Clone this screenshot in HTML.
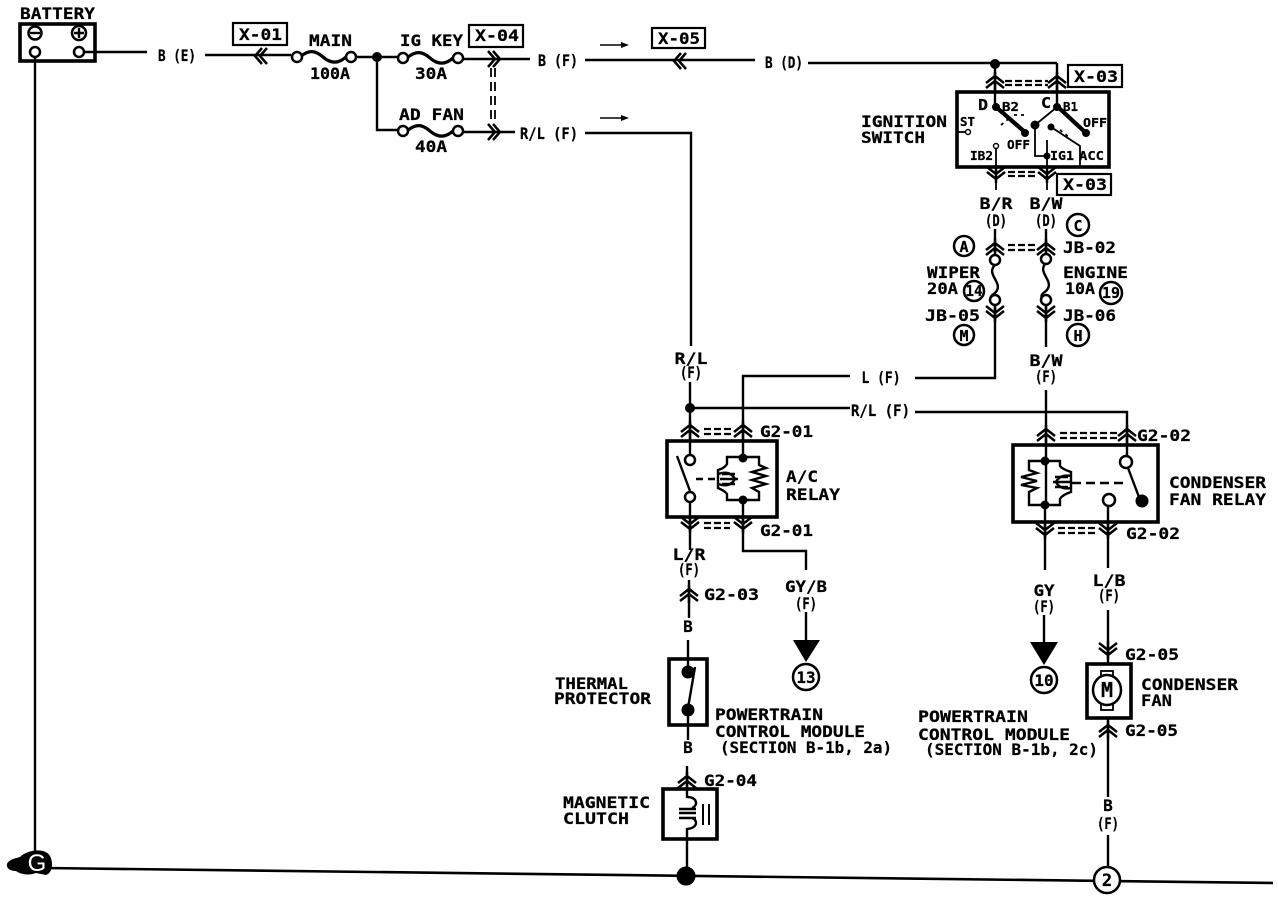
<!DOCTYPE html>
<html><head><meta charset="utf-8"><title>Wiring diagram</title>
<style>
html,body{margin:0;padding:0;background:#fff}
svg{display:block}
text{font-family:"DejaVu Sans Mono","Liberation Mono",monospace;font-weight:bold;font-size:16px;fill:#000;stroke:#000;stroke-width:.25px}
.m{text-anchor:middle}
.s{font-size:12px}
.n{font-size:15px}
.w{fill:none;stroke:#000;stroke-width:2.4}
.t{fill:none;stroke:#000;stroke-width:1.8}
.b{fill:none;stroke:#000;stroke-width:3.6}
.k{fill:#000;stroke:#000}
.c{fill:#fff;stroke:#000;stroke-width:2.5}
.d{fill:none;stroke:#000;stroke-width:2.2;stroke-dasharray:7 3}
</style></head><body>
<svg width="1278" height="912" viewBox="0 0 1278 912" xmlns="http://www.w3.org/2000/svg">
<defs>
<g id="up"><path d="M-9,4L0,-3L9,4M-9,9L0,2L9,9M0,-7V11" fill="none" stroke="#000" stroke-width="2.5"/></g>
<g id="dn"><path d="M-9,-4L0,3L9,-4M-9,-9L0,-2L9,-9M0,7V-11" fill="none" stroke="#000" stroke-width="2.5"/></g>
<g id="lf"><path d="M4,-8L-3,0L4,8M9,-8L2,0L9,8" fill="none" stroke="#000" stroke-width="2.5"/></g>
<g id="rt"><path d="M-4,-8L3,0L-4,8M-9,-8L-2,0L-9,8" fill="none" stroke="#000" stroke-width="2.5"/></g>
<path id="fuse" d="M0,0C8,-6 14,-6 22,1C30,8 38,8 46,0" fill="none" stroke="#000" stroke-width="3.2"/>
<path id="vf" d="M0,0C-10,10 10,18 0,28C-8,33 -4,36 0,39" fill="none" stroke="#000" stroke-width="2.4"/>
</defs>
<rect width="1278" height="912" fill="#fff"/>

<!-- ground bus -->
<path d="M45,868L1273,883" stroke="#000" stroke-width="2.6" fill="none"/>
<path d="M7,864C9,859 17,858 20,857C27,850 45,847 50,856C54,864 52,873 46,875L36,873C28,876 20,874 16,871C10,871 6,868 7,864Z" fill="#000"/>
<text x="37" y="871" class="m" style="fill:#fff;stroke:none;font-weight:normal;font-size:24px;font-family:'Liberation Sans',sans-serif">G</text>
<path class="w" d="M35,57V852"/>

<!-- battery -->
<text x="20" y="19" textLength="75" lengthAdjust="spacingAndGlyphs">BATTERY</text>
<rect x="20" y="24" width="75" height="37" class="b"/>
<circle cx="35" cy="33" r="6.5" class="c"/><path class="w" d="M30,33H40"/>
<circle cx="79" cy="33" r="7" class="c"/><path class="w" d="M74,33H84M79,28V38"/>
<circle cx="35" cy="52" r="5" class="c"/><circle cx="79" cy="52" r="5" class="c"/>
<path class="w" d="M84,52H147"/>
<text x="158" y="61" textLength="38" lengthAdjust="spacingAndGlyphs">B (E)</text>
<path class="w" d="M205,55H291"/>
<use href="#lf" x="258" y="56"/>
<rect x="233" y="23" width="54" height="22" fill="#fff" stroke="#000" stroke-width="2.2"/>
<text x="239" y="40" textLength="43" lengthAdjust="spacingAndGlyphs">X-01</text>

<text x="309" y="46" textLength="43" lengthAdjust="spacingAndGlyphs">MAIN</text>
<text x="310" y="79" textLength="40" lengthAdjust="spacingAndGlyphs">100A</text>
<use href="#fuse" x="301" y="56"/>
<circle cx="297" cy="57" r="5" class="c"/><circle cx="351" cy="57" r="5" class="c"/>
<path class="w" d="M356,57H398M463,59H530"/>
<circle cx="377" cy="57" r="4.5" class="k"/>
<text x="400" y="46" textLength="63" lengthAdjust="spacingAndGlyphs">IG KEY</text>
<text x="415" y="79" textLength="32" lengthAdjust="spacingAndGlyphs">30A</text>
<use href="#fuse" x="408" y="57"/>
<circle cx="403" cy="58" r="5" class="c"/><circle cx="458" cy="58" r="5" class="c"/>
<rect x="469" y="25" width="54" height="22" fill="#fff" stroke="#000" stroke-width="2.2"/>
<text x="475" y="41" textLength="44" lengthAdjust="spacingAndGlyphs">X-04</text>
<use href="#rt" x="497" y="59"/>
<path d="M491,68V124M495,68V124" stroke="#000" stroke-width="1.8" stroke-dasharray="9 5" fill="none"/>
<text x="538" y="66" textLength="40" lengthAdjust="spacingAndGlyphs">B (F)</text>
<path class="w" d="M585,60H755"/>
<use href="#lf" x="677" y="61"/>
<path d="M600,45H622" stroke="#000" stroke-width="1.6"/><path d="M621,42L629,45L621,48Z" fill="#000"/>
<rect x="652" y="28" width="53" height="20" fill="#fff" stroke="#000" stroke-width="2.2"/>
<text x="658" y="44" textLength="42" lengthAdjust="spacingAndGlyphs">X-05</text>
<text x="765" y="68" textLength="38" lengthAdjust="spacingAndGlyphs">B (D)</text>
<path class="w" d="M808,63H1057"/>
<circle cx="995" cy="64" r="4.5" class="k"/>

<path class="w" d="M377,57V130H398M463,132H515"/>
<text x="399" y="120" textLength="65" lengthAdjust="spacingAndGlyphs">AD FAN</text>
<text x="415" y="152" textLength="32" lengthAdjust="spacingAndGlyphs">40A</text>
<use href="#fuse" x="408" y="130"/>
<circle cx="403" cy="131" r="5" class="c"/><circle cx="458" cy="131" r="5" class="c"/>
<use href="#rt" x="497" y="132"/>
<text x="520" y="139" textLength="58" lengthAdjust="spacingAndGlyphs">R/L (F)</text>
<path d="M600,118H622" stroke="#000" stroke-width="1.6"/><path d="M621,115L629,118L621,121Z" fill="#000"/>
<path class="w" d="M585,133H691V346"/>

<!-- ignition switch -->
<text x="861" y="127" textLength="86" lengthAdjust="spacingAndGlyphs">IGNITION</text>
<text x="861" y="143" textLength="64" lengthAdjust="spacingAndGlyphs">SWITCH</text>
<rect x="957" y="92" width="152" height="75" class="b"/>
<path class="w" d="M995,63V107M1057,63V107"/>
<use href="#up" x="995" y="79"/><use href="#up" x="1057" y="79"/>
<path class="d" d="M1005,81H1048"/>
<path class="d" d="M1005,85H1048"/>
<rect x="1068" y="65" width="54" height="22" fill="#fff" stroke="#000" stroke-width="2.2"/>
<text x="1074" y="82" textLength="44" lengthAdjust="spacingAndGlyphs">X-03</text>
<text x="978" y="110" class="n" textLength="10" lengthAdjust="spacingAndGlyphs">D</text>
<text x="1041" y="108" class="n" textLength="10" lengthAdjust="spacingAndGlyphs">C</text>
<text x="1002" y="111" class="s" textLength="17" lengthAdjust="spacingAndGlyphs">B2</text>
<text x="1063" y="111" class="s" textLength="15" lengthAdjust="spacingAndGlyphs">B1</text>
<text x="960" y="126" class="s" textLength="15" lengthAdjust="spacingAndGlyphs">ST</text>
<circle cx="968" cy="132" r="2.5" class="c" style="stroke-width:1.4"/>
<path class="t" d="M957,132H965"/>
<text x="1007" y="149" class="s" textLength="23" lengthAdjust="spacingAndGlyphs">OFF</text>
<text x="1083" y="127" class="s" textLength="24" lengthAdjust="spacingAndGlyphs">OFF</text>
<text x="970" y="160" class="s" textLength="23" lengthAdjust="spacingAndGlyphs">IB2</text>
<text x="1050" y="160" class="s" textLength="24" lengthAdjust="spacingAndGlyphs">IG1</text>
<text x="1079" y="160" class="s" textLength="25" lengthAdjust="spacingAndGlyphs">ACC</text>
<circle cx="996" cy="107" r="3.5" class="k"/><circle cx="1057" cy="107" r="3.5" class="k"/>
<path d="M996,107L1026,133M1059,108L1086,133" stroke="#000" stroke-width="4.2" fill="none"/>
<circle cx="1025" cy="133" r="3.5" class="k"/><circle cx="1086" cy="133" r="3.5" class="k"/>
<path class="t" d="M1057,107L1035,125V156H1046M1051,127L1080,146V166M1047,140V190M996,145V190"/>
<path class="t" stroke-dasharray="3 4" d="M1001,125L1012,116M1014,115H1024M1060,130L1070,138"/>
<circle cx="1035" cy="125" r="4" class="k"/><circle cx="1051" cy="127" r="3" class="k"/><circle cx="1047" cy="156" r="3" class="k"/>
<circle cx="996" cy="146" r="2.5" class="c" style="stroke-width:1.4"/>
<use href="#dn" x="996" y="176"/><use href="#dn" x="1047" y="176"/>
<path class="d" d="M1008,172H1038M1008,176H1038"/>
<rect x="1057" y="174" width="54" height="21" fill="#fff" stroke="#000" stroke-width="2.2"/>
<text x="1063" y="190" textLength="44" lengthAdjust="spacingAndGlyphs">X-03</text>
<text x="996" y="209" class="m" textLength="33" lengthAdjust="spacingAndGlyphs">B/R</text>
<text x="996" y="226" class="m" textLength="22" lengthAdjust="spacingAndGlyphs">(D)</text>
<text x="1046" y="209" class="m" textLength="33" lengthAdjust="spacingAndGlyphs">B/W</text>
<text x="1046" y="226" class="m" textLength="22" lengthAdjust="spacingAndGlyphs">(D)</text>

<!-- fuses JB -->
<path class="w" d="M995,229V255M1046,229V253"/>
<use href="#up" x="995" y="246"/><use href="#up" x="1046" y="246"/>
<path class="d" d="M1008,245H1036M1008,250H1036"/>
<circle cx="964" cy="246" r="10" class="c"/><text x="964" y="252" class="m n">A</text>
<circle cx="1078" cy="225" r="11" class="c"/><text x="1078" y="231" class="m n">C</text>
<text x="1063" y="253" textLength="53" lengthAdjust="spacingAndGlyphs">JB-02</text>
<use href="#vf" x="995" y="265"/><use href="#vf" x="1046" y="263"/>
<circle cx="995" cy="260" r="5" class="c"/><circle cx="995" cy="300" r="5" class="c"/>
<circle cx="1046" cy="259" r="5" class="c"/><circle cx="1046" cy="300" r="5" class="c"/>
<text x="927" y="278" textLength="53" lengthAdjust="spacingAndGlyphs">WIPER</text>
<text x="927" y="294" textLength="31" lengthAdjust="spacingAndGlyphs">20A</text>
<circle cx="974" cy="291" r="10" class="c"/><text x="974" y="296" class="m n" textLength="17" lengthAdjust="spacingAndGlyphs">14</text>
<text x="1063" y="278" textLength="65" lengthAdjust="spacingAndGlyphs">ENGINE</text>
<text x="1065" y="294" textLength="30" lengthAdjust="spacingAndGlyphs">10A</text>
<circle cx="1111" cy="293" r="11" class="c"/><text x="1111" y="298" class="m n" textLength="18" lengthAdjust="spacingAndGlyphs">19</text>
<use href="#dn" x="995" y="315"/><use href="#dn" x="1046" y="315"/>
<text x="925" y="321" textLength="55" lengthAdjust="spacingAndGlyphs">JB-05</text>
<text x="1063" y="321" textLength="53" lengthAdjust="spacingAndGlyphs">JB-06</text>
<circle cx="964" cy="335" r="10" class="c"/><text x="964" y="341" class="m n">M</text>
<circle cx="1078" cy="335" r="11" class="c"/><text x="1078" y="341" class="m n">H</text>
<path class="w" d="M995,305V378H915M1046,305V347M1046,390V507"/>
<text x="881" y="383" class="m" textLength="39" lengthAdjust="spacingAndGlyphs">L (F)</text>
<path class="w" d="M850,376H743V458"/>
<text x="1046" y="366" class="m" textLength="33" lengthAdjust="spacingAndGlyphs">B/W</text>
<text x="1046" y="382" class="m" textLength="22" lengthAdjust="spacingAndGlyphs">(F)</text>
<text x="691" y="364" class="m" textLength="33" lengthAdjust="spacingAndGlyphs">R/L</text>
<text x="691" y="378" class="m" textLength="22" lengthAdjust="spacingAndGlyphs">(F)</text>

<!-- A/C relay -->
<path class="w" d="M690,382V455M690,408H850"/>
<circle cx="690" cy="408" r="4.5" class="k"/>
<text x="851" y="416" textLength="59" lengthAdjust="spacingAndGlyphs">R/L (F)</text>
<path class="w" d="M915,412H1127V457"/>
<use href="#up" x="690" y="428"/><use href="#up" x="743" y="428"/>
<path class="d" d="M704,429H733M704,434H733"/>
<text x="760" y="437" textLength="53" lengthAdjust="spacingAndGlyphs">G2-01</text>
<rect x="667" y="441" width="110" height="76" class="b"/>
<circle cx="690" cy="460" r="5" class="c"/><circle cx="690" cy="497" r="5" class="c"/>
<path class="w" d="M677,456L690,491M690,502V550"/>
<path d="M696,479H716" stroke="#000" stroke-width="2.4" stroke-dasharray="7 5"/>
<circle cx="743" cy="458" r="4" class="k"/><circle cx="743" cy="500" r="4" class="k"/>
<path class="w" d="M743,457H727V464Q725,468 718,470V488Q725,491 727,494V500H759V492L752,488L766,484L752,480L766,476L752,472L766,468L759,465V457H743"/>
<path class="w" d="M718,474Q730,470 735,479Q730,488 718,484"/>
<path d="M722,474H735M720,479H738M722,484H735" stroke="#000" stroke-width="2.6"/>
<text x="786" y="482" textLength="32" lengthAdjust="spacingAndGlyphs">A/C</text>
<text x="786" y="500" textLength="54" lengthAdjust="spacingAndGlyphs">RELAY</text>
<use href="#dn" x="690" y="526"/><use href="#dn" x="743" y="526"/>
<path class="d" d="M704,523H730M704,528H730"/>
<text x="760" y="536" textLength="53" lengthAdjust="spacingAndGlyphs">G2-01</text>
<path class="w" d="M743,500V551H806V570"/>
<text x="689" y="560" class="m" textLength="33" lengthAdjust="spacingAndGlyphs">L/R</text>
<text x="689" y="575" class="m" textLength="22" lengthAdjust="spacingAndGlyphs">(F)</text>
<text x="806" y="592" class="m" textLength="42" lengthAdjust="spacingAndGlyphs">GY/B</text>
<text x="806" y="609" class="m" textLength="22" lengthAdjust="spacingAndGlyphs">(F)</text>
<path class="w" d="M806,612V642"/>
<path d="M793,640H820L806,662Z" fill="#000"/>
<circle cx="806" cy="677" r="13" class="c"/><text x="806" y="683" class="m" style="font-size:16px">13</text>
<path class="w" d="M689,580V618"/>
<use href="#up" x="689" y="592"/>
<text x="704" y="600" textLength="55" lengthAdjust="spacingAndGlyphs">G2-03</text>
<text x="688" y="632" class="m">B</text>

<!-- thermal protector -->
<path class="w" d="M688,640V672M688,710V740M687,766V798M687,828V875"/>
<rect x="669" y="659" width="38" height="66" class="b"/>
<circle cx="688" cy="672" r="6" class="k"/><circle cx="688" cy="710" r="6" class="k"/>
<path class="w" d="M695,667L688,708"/>
<text x="555" y="689" textLength="73" lengthAdjust="spacingAndGlyphs">THERMAL</text>
<text x="554" y="704" textLength="97" lengthAdjust="spacingAndGlyphs">PROTECTOR</text>
<text x="715" y="720" textLength="108" lengthAdjust="spacingAndGlyphs">POWERTRAIN</text>
<text x="715" y="737" textLength="150" lengthAdjust="spacingAndGlyphs">CONTROL MODULE</text>
<text x="720" y="753" textLength="172" lengthAdjust="spacingAndGlyphs">(SECTION B-1b, 2a)</text>
<text x="688" y="753" class="m">B</text>
<use href="#up" x="687" y="779"/>
<text x="704" y="786" textLength="53" lengthAdjust="spacingAndGlyphs">G2-04</text>

<!-- magnetic clutch -->
<rect x="663" y="789" width="54" height="50" class="b"/>
<path class="w" d="M687,797C698,797 698,806 692,808M687,829C698,828 698,820 692,818"/>
<path d="M679,809H696M679,813H696M679,818H696" stroke="#000" stroke-width="2.6"/>
<path d="M703,804V825M709,804V825" stroke="#000" stroke-width="2"/>
<text x="563" y="808" textLength="87" lengthAdjust="spacingAndGlyphs">MAGNETIC</text>
<text x="563" y="824" textLength="66" lengthAdjust="spacingAndGlyphs">CLUTCH</text>
<circle cx="686" cy="876" r="9" class="k"/>

<!-- condenser relay -->
<use href="#up" x="1046" y="432"/><use href="#up" x="1127" y="432"/>
<path class="d" d="M1060,433H1118M1060,438H1118"/>
<text x="1137" y="441" textLength="54" lengthAdjust="spacingAndGlyphs">G2-02</text>
<rect x="1013" y="445" width="145" height="77" class="b"/>
<circle cx="1045" cy="461" r="4" class="k"/><circle cx="1045" cy="505" r="4" class="k"/>
<path class="w" d="M1045,461H1029V470L1037,473L1021,477L1037,481L1021,485L1037,488L1029,492V505H1060V499Q1062,495 1071,492V472Q1062,469 1060,466V461H1045"/>
<path class="w" d="M1071,476Q1060,474 1056,482Q1060,490 1071,488"/>
<path d="M1055,477H1068M1053,482H1070M1055,487H1068" stroke="#000" stroke-width="2.6"/>
<path d="M1072,483H1125" stroke="#000" stroke-width="2.4" stroke-dasharray="9 5"/>
<circle cx="1126" cy="462" r="6" class="c"/><circle cx="1109" cy="500" r="6" class="c"/>
<path class="w" d="M1128,468L1142,505"/>
<circle cx="1142" cy="501" r="6" class="k"/>
<text x="1169" y="488" textLength="97" lengthAdjust="spacingAndGlyphs">CONDENSER</text>
<text x="1169" y="505" textLength="97" lengthAdjust="spacingAndGlyphs">FAN RELAY</text>
<use href="#dn" x="1045" y="532"/><use href="#dn" x="1108" y="532"/>
<path class="d" d="M1058,528H1098M1058,533H1098"/>
<text x="1126" y="539" textLength="54" lengthAdjust="spacingAndGlyphs">G2-02</text>
<path class="w" d="M1045,505V570M1108,506V568M1108,610V665M1108,718V797M1108,835V867"/>
<text x="1044" y="596" class="m" textLength="21" lengthAdjust="spacingAndGlyphs">GY</text>
<text x="1044" y="612" class="m" textLength="22" lengthAdjust="spacingAndGlyphs">(F)</text>
<path class="w" d="M1044,615V645"/>
<path d="M1030,642H1058L1044,665Z" fill="#000"/>
<circle cx="1044" cy="680" r="13" class="c"/><text x="1044" y="686" class="m" style="font-size:16px">10</text>
<text x="1109" y="586" class="m" textLength="33" lengthAdjust="spacingAndGlyphs">L/B</text>
<text x="1109" y="601" class="m" textLength="22" lengthAdjust="spacingAndGlyphs">(F)</text>
<use href="#dn" x="1108" y="652"/>
<text x="1125" y="660" textLength="54" lengthAdjust="spacingAndGlyphs">G2-05</text>

<!-- condenser fan -->
<rect x="1087" y="664" width="44" height="54" class="b"/>
<rect x="1101" y="671" width="12" height="6" class="c" style="stroke-width:1.8"/>
<rect x="1101" y="704" width="12" height="6" class="c" style="stroke-width:1.8"/>
<ellipse cx="1107" cy="690" rx="14" ry="15" class="c"/>
<text x="1107" y="697" class="m" style="font-size:20px">M</text>
<text x="1141" y="690" textLength="97" lengthAdjust="spacingAndGlyphs">CONDENSER</text>
<text x="1141" y="706" textLength="31" lengthAdjust="spacingAndGlyphs">FAN</text>
<use href="#up" x="1108" y="728"/>
<text x="1125" y="736" textLength="53" lengthAdjust="spacingAndGlyphs">G2-05</text>
<text x="918" y="722" textLength="110" lengthAdjust="spacingAndGlyphs">POWERTRAIN</text>
<text x="918" y="740" textLength="152" lengthAdjust="spacingAndGlyphs">CONTROL MODULE</text>
<text x="925" y="755" textLength="173" lengthAdjust="spacingAndGlyphs">(SECTION B-1b, 2c)</text>
<text x="1108" y="811" class="m">B</text>
<text x="1108" y="829" class="m" textLength="22" lengthAdjust="spacingAndGlyphs">(F)</text>
<circle cx="1107" cy="880" r="13" class="c"/><text x="1107" y="886" class="m" style="font-size:17px">2</text>
</svg>
</body></html>
